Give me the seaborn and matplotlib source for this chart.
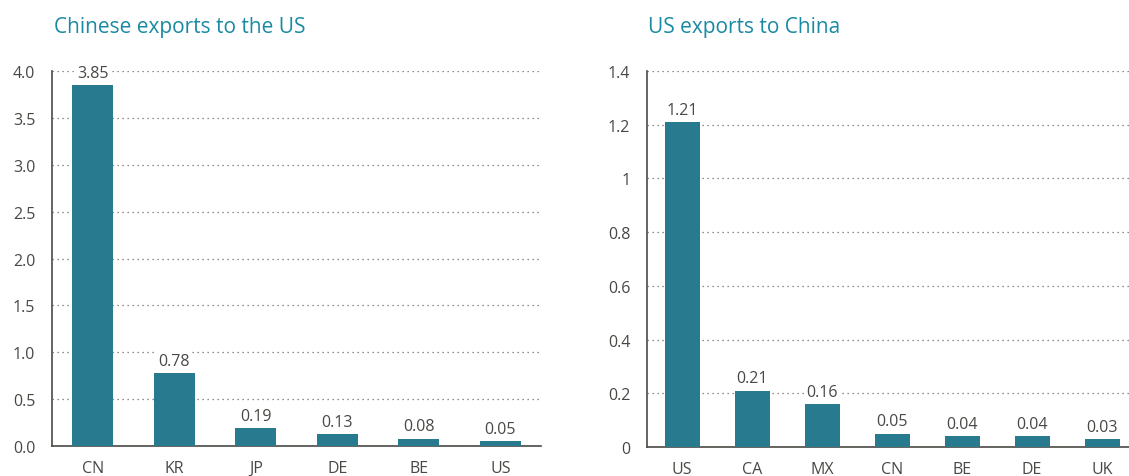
import matplotlib
matplotlib.use("Agg")
import matplotlib.pyplot as plt
import seaborn as sns
import pandas as pd
from matplotlib.ticker import FixedLocator

left_title = "Chinese exports to the US"
left_cats = ["CN", "KR", "JP", "DE", "BE", "US"]
left_vals = [3.85, 0.78, 0.19, 0.13, 0.08, 0.05]
left_yticks = [0.0, 0.5, 1.0, 1.5, 2.0, 2.5, 3.0, 3.5, 4.0]
left_ylabels = ["0.0", "0.5", "1.0", "1.5", "2.0", "2.5", "3.0", "3.5", "4.0"]

right_title = "US exports to China"
right_cats = ["US", "CA", "MX", "CN", "BE", "DE", "UK"]
right_vals = [1.21, 0.21, 0.16, 0.05, 0.04, 0.04, 0.03]
right_yticks = [0, 0.2, 0.4, 0.6, 0.8, 1.0, 1.2, 1.4]
right_ylabels = ["0", "0.2", "0.4", "0.6", "0.8", "1", "1.2", "1.4"]

sns.set_style("white")
plt.rcParams["font.family"] = ["Open Sans", "DejaVu Sans"]

BAR = "#287b8f"
TITLE = "#1a8aa3"
TXT = "#4a4845"
SPINE = "#4d4a45"
FS = 11.5

fig = plt.figure(figsize=(11.29, 4.77), dpi=100)
W, H = 1129, 477

def make(ax, cats, vals, yticks, ylabels, title, title_x):
    df = pd.DataFrame({"cat": cats, "val": vals})
    sns.barplot(data=df, x="cat", y="val", color=BAR, width=0.5, ax=ax,
                saturation=1, linewidth=0, zorder=3)
    n = len(cats)
    ax.set_xlim(-0.5, n - 0.5)
    ax.set_ylim(yticks[0], yticks[-1])
    ax.set_yticks(yticks)
    ax.set_yticklabels(ylabels)
    ax.set_xlabel("")
    ax.set_ylabel("")
    for s in ["top", "right"]:
        ax.spines[s].set_visible(False)
    for s in ["left", "bottom"]:
        ax.spines[s].set_color(SPINE)
        ax.spines[s].set_linewidth(1.2)
    ax.grid(axis="y", linestyle=(0, (1, 3)), color="#6a6a6a", linewidth=0.9, zorder=1)
    ax.set_axisbelow(True)
    ax.tick_params(axis="y", direction="out", length=7, width=1.2, color=SPINE,
                   labelsize=FS, labelcolor=TXT, pad=5)
    ax.tick_params(axis="x", which="major", length=0, labelsize=FS,
                   labelcolor=TXT, pad=10)
    ax.xaxis.set_minor_locator(FixedLocator([i + 0.5 for i in range(n)]))
    ax.tick_params(axis="x", which="minor", direction="in", length=10, width=1.2,
                   color=SPINE)
    for c in ax.containers:
        ax.bar_label(c, labels=[f"{v:.2f}" for v in vals], padding=3,
                     fontsize=FS, color=TXT,
                     bbox=dict(facecolor="white", edgecolor="none", pad=1.5))
    fig.text(title_x / W, 1 - 28 / H, title, color=TITLE, fontsize=15,
             ha="left", va="center")

ax1 = fig.add_axes([52 / W, 30 / H, (541 - 52) / W, (447 - 72) / H])
ax2 = fig.add_axes([647 / W, 29 / H, (1137 - 647) / W, (448 - 72) / H])
make(ax1, left_cats, left_vals, left_yticks, left_ylabels, left_title, 54)
make(ax2, right_cats, right_vals, right_yticks, right_ylabels, right_title, 648)

fig.savefig("out.png", dpi=100)
